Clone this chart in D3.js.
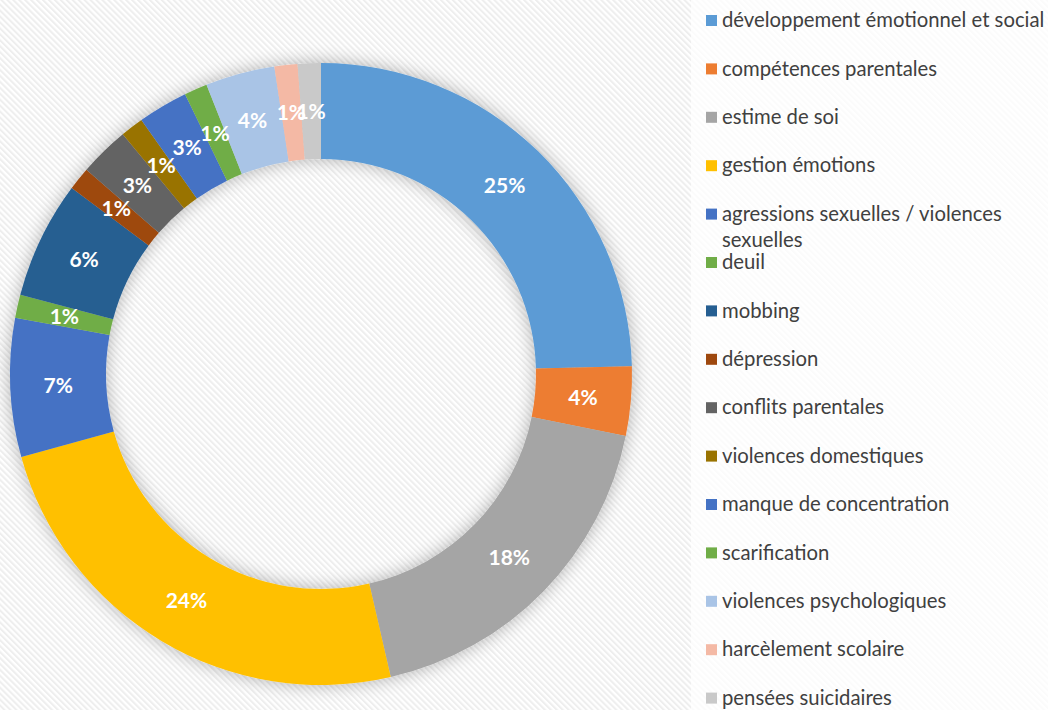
<!DOCTYPE html>
<html>
<head>
<meta charset="utf-8">
<script src="https://cdn.jsdelivr.net/npm/d3@7"></script>
<style>
  body { margin: 0; background: #fff; }
  svg { display: block; }
</style>
</head>
<body>
<div id="chart"></div>
<script>
var svgWidth = 1048;
var svgHeight = 710;

// categories, clockwise from 12 o'clock
var categories = [
  "développement émotionnel et social",
  "compétences parentales",
  "estime de soi",
  "gestion émotions",
  "agressions sexuelles / violences sexuelles",
  "deuil",
  "mobbing",
  "dépression",
  "conflits parentales",
  "violences domestiques",
  "manque de concentration",
  "scarification",
  "violences psychologiques",
  "harcèlement scolaire",
  "pensées suicidaires"
];

// share of each category (%)
var shares = [24.6, 3.6, 18.2, 24.3, 7.2, 1.2, 6.1, 1.2, 2.6, 1.2, 2.6, 1.2, 3.6, 1.2, 1.2];

var colors = [
  "#5b9bd5", "#ed7d31", "#a5a5a5", "#ffc000", "#4472c4", "#70ad47",
  "#255e91", "#9e480e", "#636363", "#997300", "#4472c4", "#70ad47",
  "#a9c4e6", "#f4b9a5", "#c9c9c9"
];

var data = categories.map(function(c, i) {
  return { name: c, value: shares[i], color: colors[i] };
});

var svg = d3.select("#chart")
  .append("svg")
  .attr("width", svgWidth)
  .attr("height", svgHeight);

var defs = svg.append("defs");

// diagonal stripe background
var pattern = defs.append("pattern")
  .attr("id", "stripes")
  .attr("patternUnits", "userSpaceOnUse")
  .attr("width", 4.2)
  .attr("height", 4.2)
  .attr("patternTransform", "rotate(-45)");
pattern.append("rect").attr("width", 4.2).attr("height", 4.2).attr("fill", "#ffffff");
pattern.append("rect").attr("width", 2).attr("height", 4.2).attr("fill", "#eeeeee");

// soft shadow round the ring
var shadow = defs.append("filter")
  .attr("id", "shadow")
  .attr("x", "-20%").attr("y", "-20%")
  .attr("width", "140%").attr("height", "140%");
shadow.append("feGaussianBlur").attr("in", "SourceAlpha").attr("stdDeviation", 9).attr("result", "blur");
shadow.append("feComponentTransfer").attr("in", "blur").attr("result", "soft")
  .append("feFuncA").attr("type", "linear").attr("slope", 0.3);
var merge = shadow.append("feMerge");
merge.append("feMergeNode").attr("in", "soft");
merge.append("feMergeNode").attr("in", "SourceGraphic");

svg.append("rect")
  .attr("width", svgWidth)
  .attr("height", svgHeight)
  .attr("fill", "url(#stripes)");

// legend panel
svg.append("rect")
  .attr("x", 691)
  .attr("y", 0)
  .attr("width", svgWidth - 691)
  .attr("height", svgHeight)
  .attr("fill", "#ffffff")
  .attr("opacity", 0.75);

var cx = 321, cy = 374;
var outerR = 311, innerR = 215;

var pie = d3.pie()
  .sort(null)
  .value(function(d) { return d.value; });

var arc = d3.arc()
  .innerRadius(innerR)
  .outerRadius(outerR);

var total = d3.sum(data, function(d) { return d.value; });
var arcs = pie(data);

var chartGroup = svg.append("g")
  .attr("transform", `translate(${cx}, ${cy})`);

chartGroup.append("g")
  .attr("filter", "url(#shadow)")
  .selectAll("path")
  .data(arcs)
  .enter()
  .append("path")
  .attr("d", arc)
  .attr("fill", function(d) { return d.data.color; });

chartGroup.selectAll("text.pct")
  .data(arcs)
  .enter()
  .append("text")
  .attr("class", "pct")
  .attr("transform", function(d) { return `translate(${arc.centroid(d)})`; })
  .attr("text-anchor", "middle")
  .attr("dy", "0.36em")
  .attr("fill", "#ffffff")
  .attr("font-family", "Lato, 'Open Sans', sans-serif")
  .attr("font-weight", "bold")
  .attr("font-size", 21)
  .text(function(d) { return Math.round(d.data.value / total * 100) + "%"; });

// legend
var legendX = 706;
var legendY = 20;
var legendStep = 48.4;
var maxTextWidth = 330;

var legend = svg.append("g");

var items = legend.selectAll("g")
  .data(data)
  .enter()
  .append("g")
  .attr("transform", function(d, i) { return `translate(${legendX}, ${legendY + i * legendStep})`; });

items.append("rect")
  .attr("x", 0)
  .attr("y", -5)
  .attr("width", 11)
  .attr("height", 11)
  .attr("fill", function(d) { return d.color; });

items.append("text")
  .attr("x", 16)
  .attr("y", 0)
  .attr("dy", "0.35em")
  .attr("fill", "#404040")
  .attr("font-family", "Lato, 'Open Sans', sans-serif")
  .attr("font-size", 20.3)
  .each(function(d) {
    var t = d3.select(this);
    var words = d.name.split(" ");
    var line = [];
    var tspan = t.append("tspan").attr("x", 16);
    words.forEach(function(w) {
      line.push(w);
      tspan.text(line.join(" "));
      if (tspan.node().getComputedTextLength() > maxTextWidth && line.length > 1) {
        line.pop();
        tspan.text(line.join(" "));
        line = [w];
        tspan = t.append("tspan").attr("x", 16).attr("dy", 26.7).text(w);
      }
    });
  });
</script>
</body>
</html>
